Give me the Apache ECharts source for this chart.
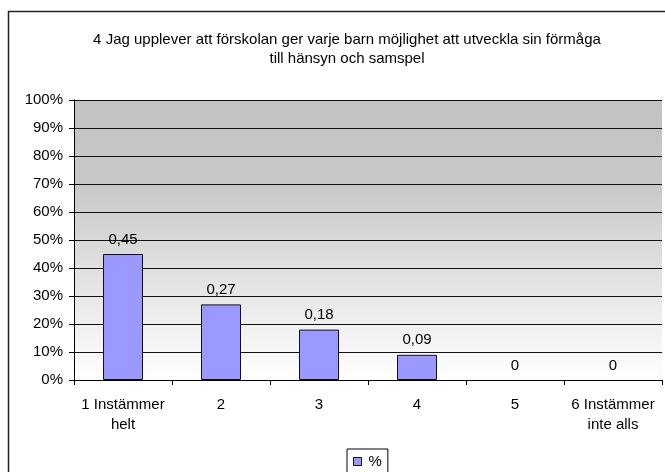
<!DOCTYPE html>
<html>
<head>
<meta charset="utf-8">
<script src="https://cdn.jsdelivr.net/npm/echarts@6/dist/echarts.min.js"></script>
<style>
  html, body { margin: 0; padding: 0; background: #fff; }
  #chart { width: 665px; height: 472px; }
</style>
</head>
<body>
<div id="chart"></div>
<script>
// kategorier och värden
const categories = ['1 Instämmer\nhelt', '2', '3', '4', '5', '6 Instämmer\ninte alls']
const values = [0.45, 0.27, 0.18, 0.09, 0, 0]
const seriesName = '%'
const titleText = '4 Jag upplever att förskolan ger varje barn möjlighet att utveckla sin förmåga\ntill hänsyn och samspel'

const chart = echarts.init(document.getElementById('chart'))

// nollvärden ritas utan ram (som i Excel)
const barData = values.map(v => v === 0 ? { value: v, itemStyle: { borderWidth: 0 } } : v)

const option = {
  animation: false,
  textStyle: { fontFamily: 'Liberation Sans, Arial, sans-serif' },
  title: {
    text: titleText,
    left: 342,
    textAlign: 'center',
    top: 26,
    textStyle: { fontSize: 15, fontWeight: 'normal', color: '#000', lineHeight: 18.5 }
  },
  // ram runt hela diagrammet
  graphic: [{
    type: 'rect',
    shape: { x: 8.5, y: 11.5, width: 668, height: 480 },
    style: { fill: 'none', stroke: '#222', lineWidth: 1.5 },
    silent: true
  }],
  legend: {
    data: [seriesName],
    left: 347,
    top: 449,
    padding: [5, 6, 5, 6],
    icon: 'rect',
    itemWidth: 8,
    itemHeight: 8,
    borderColor: '#000',
    borderWidth: 1,
    itemStyle: { borderWidth: 1, borderColor: '#111' },
    textStyle: { fontSize: 15, color: '#000', padding: [0, 0, 0, 2] }
  },
  grid: {
    left: 74,
    top: 100,
    width: 588,
    height: 280,
    show: true,
    borderWidth: 0,
    backgroundColor: new echarts.graphic.LinearGradient(0, 0, 0, 1, [
      { offset: 0, color: '#c2c2c2' },
      { offset: 0.3, color: '#c8c8c8' },
      { offset: 1, color: '#ffffff' }
    ])
  },
  xAxis: {
    type: 'category',
    data: categories,
    axisLine: { lineStyle: { color: '#000', width: 1 } },
    axisTick: { show: true, length: 5, lineStyle: { color: '#000' } },
    axisLabel: { color: '#000', fontSize: 15, margin: 15, lineHeight: 20, interval: 0 }
  },
  yAxis: {
    type: 'value',
    min: 0,
    max: 1,
    interval: 0.1,
    axisLine: { show: true, lineStyle: { color: '#000', width: 1 } },
    axisTick: { show: true, length: 5, lineStyle: { color: '#000' } },
    splitLine: { lineStyle: { color: '#111', width: 1 } },
    axisLabel: {
      color: '#000',
      fontSize: 15,
      margin: 11,
      formatter: v => Math.round(v * 100) + '%'
    }
  },
  series: [{
    name: seriesName,
    type: 'bar',
    data: barData,
    barWidth: 40,
    itemStyle: { color: '#9999ff', borderColor: '#111', borderWidth: 1 },
    label: {
      show: true,
      position: 'top',
      distance: 7,
      color: '#000',
      fontSize: 15,
      formatter: p => String(p.value).replace('.', ',')
    }
  }]
}

chart.setOption(option)
</script>
</body>
</html>
